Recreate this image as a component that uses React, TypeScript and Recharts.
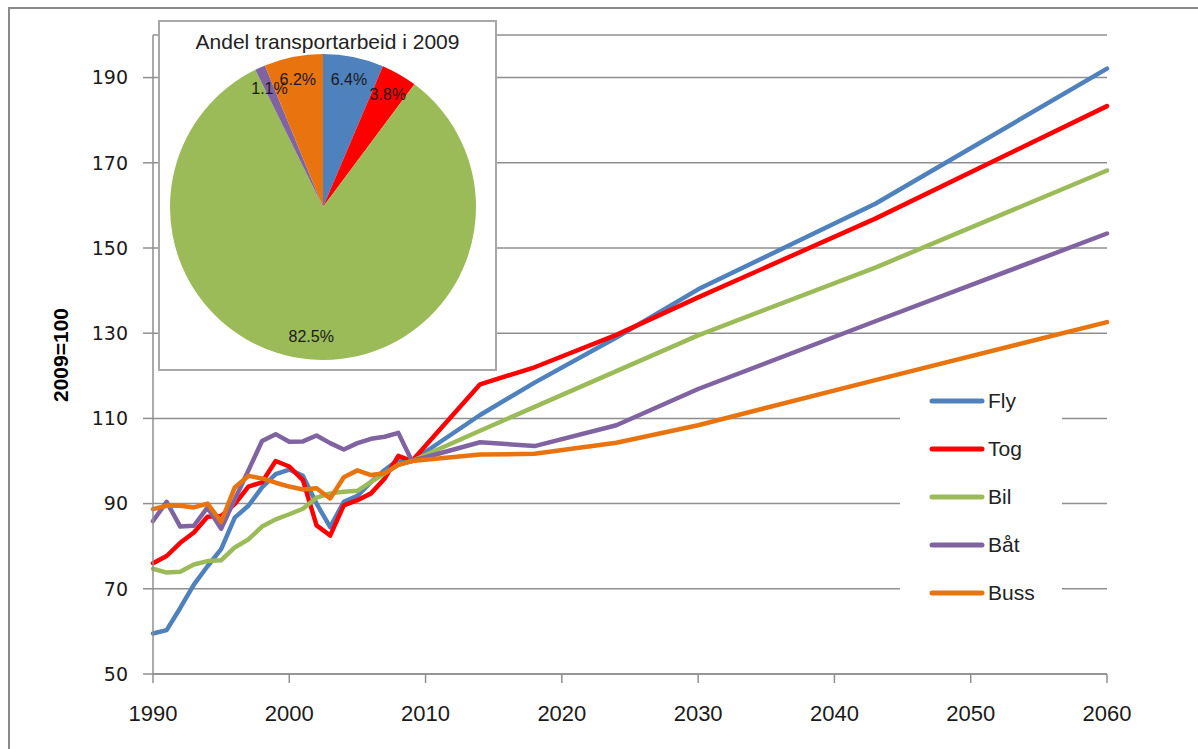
import { LineChart, Line, XAxis, YAxis, CartesianGrid, Legend, PieChart, Pie, Cell } from "recharts";

const years = [1990, 1991, 1992, 1993, 1994, 1995, 1996, 1997, 1998, 1999, 2000, 2001, 2002, 2003, 2004, 2005, 2006, 2007, 2008, 2009, 2014, 2018, 2024, 2030, 2043, 2060];
const fly = [59.5, 60.3, 65.5, 71, 75.3, 79.3, 86.7, 89.5, 93.8, 96.9, 98, 96.5, 90, 84.5, 90.4, 91.8, 95.1, 97.9, 100.3, 100, 110.8, 118.4, 129, 140.3, 160.4, 192.1];
const tog = [76, 77.7, 80.8, 83.2, 86.9, 87.1, 89.9, 94, 95, 100, 98.7, 95.5, 84.9, 82.5, 89.6, 90.8, 92.4, 95.9, 101.2, 100, 118, 122, 129.6, 138.4, 156.9, 183.3];
const bil = [74.7, 73.8, 74, 75.7, 76.5, 76.7, 79.7, 81.6, 84.6, 86.3, 87.5, 88.8, 91.4, 92.4, 92.8, 93, 95.1, 97.1, 99.1, 100, 107.1, 112.7, 121.1, 129.5, 145.4, 168.2];
const baat = [85.9, 90.4, 84.6, 84.8, 89.1, 84.1, 91, 97.8, 104.7, 106.3, 104.5, 104.6, 106, 104.2, 102.7, 104.2, 105.2, 105.7, 106.6, 100, 104.4, 103.5, 108.4, 116.9, 132.8, 153.4];
const buss = [88.7, 89.5, 89.5, 89.1, 90, 85.7, 93.8, 96.5, 95.9, 94.9, 94, 93.3, 93.6, 91.2, 96.2, 97.8, 96.7, 97.1, 99.1, 100, 101.5, 101.7, 104.3, 108.4, 119, 132.6];

const xTicks = [1990, 2000, 2010, 2020, 2030, 2040, 2050, 2060];
const yTicks = [50, 70, 90, 110, 130, 150, 170, 190];

const pieNames = ["Fly", "Tog", "Bil", "Båt", "Buss"];
const pieShares = [6.4, 3.8, 82.5, 1.1, 6.2];

const series = [
  { key: "Fly", color: "#4F81BD" },
  { key: "Tog", color: "#FF0000" },
  { key: "Bil", color: "#9BBB59" },
  { key: "Båt", color: "#8064A2" },
  { key: "Buss", color: "#E9730F" },
];

const rows = years.map((year, i) => ({
  year,
  Fly: fly[i],
  Tog: tog[i],
  Bil: bil[i],
  "Båt": baat[i],
  Buss: buss[i],
}));

const pieData = pieNames.map((name, i) => ({ name, value: pieShares[i], color: series[i].color }));

const SANS = "'Liberation Sans', Arial, sans-serif";
const GRID = "#8f8f8f";
const RAD = Math.PI / 180;

// legend keeps the series order (recharts sorts the payload by name)
function renderLegend() {
  return (
    <div style={{ background: "#fff", width: 162, height: 240 }}>
      {series.map((s) => (
        <div key={s.key} style={{ display: "flex", alignItems: "center", height: 48 }}>
          <svg width={87} height={10}>
            <line x1={32} y1={5} x2={82} y2={5} stroke={s.color} strokeWidth={5} strokeLinecap="round" />
          </svg>
          <span style={{ fontFamily: SANS, fontSize: 21, color: "#222", marginLeft: 1 }}>{s.key}</span>
        </div>
      ))}
    </div>
  );
}

function renderPieLabel(props: any) {
  const { cx, cy, midAngle, value } = props;
  const r = 130;
  const x = cx + r * Math.cos(-midAngle * RAD);
  const y = cy + r * Math.sin(-midAngle * RAD);
  return (
    <text x={x} y={y} textAnchor="middle" dominantBaseline="central" fontFamily={SANS} fontSize={16} fill="#1a1a1a">
      {value.toFixed(1)}%
    </text>
  );
}

export default function App() {
  return (
    <div style={{ position: "absolute", left: 0, top: 0, width: 1198, height: 749, overflow: "hidden", background: "#fff" }}>
      <div style={{ position: "absolute", left: 8, top: 7, width: 1300, height: 900, border: "2px solid #8a8a8a" }} />
      <div style={{ position: "absolute", left: 0, top: 0 }}>
        <LineChart width={1198} height={749} data={rows} margin={{ top: 35, right: 91, left: 0, bottom: 0 }}>
          <CartesianGrid vertical={false} stroke={GRID} strokeWidth={1.5} />
          <XAxis
            dataKey="year"
            type="number"
            domain={[1990, 2060]}
            ticks={xTicks}
            height={75}
            stroke={GRID}
            strokeWidth={1.5}
            tickSize={9}
            tickMargin={22}
            tick={{ fontFamily: SANS, fontSize: 22, fill: "#1a1a1a" }}
          />
          <YAxis
            type="number"
            domain={[50, 200]}
            ticks={yTicks}
            width={153}
            stroke={GRID}
            strokeWidth={1.5}
            tickSize={10}
            tickMargin={15}
            tick={{ fontFamily: "'DejaVu Sans', sans-serif", fontSize: 19, fill: "#1a1a1a" }}
            label={{
              content: () => (
                <text x={60} y={355} transform="rotate(-90 60 355)" textAnchor="middle" dominantBaseline="central" fontFamily={SANS} fontWeight="bold" fontSize={21} fill="#000">
                  2009=100
                </text>
              ),
            }}
          />
          <Legend
            layout="vertical"
            align="center"
            verticalAlign="middle"
            content={renderLegend}
            wrapperStyle={{ left: 900, top: 377, width: 162, height: 240 }}
          />
          {series.map((s) => (
            <Line
              key={s.key}
              type="linear"
              dataKey={s.key}
              stroke={s.color}
              strokeWidth={4.5}
              strokeLinejoin="round"
              strokeLinecap="round"
              dot={false}
              isAnimationActive={false}
            />
          ))}
        </LineChart>
      </div>
      <div style={{ position: "absolute", left: 158, top: 20, width: 335, height: 347, border: "2px solid #a8a8a8", background: "#fff" }}>
        <div style={{ position: "absolute", left: 0, top: 8, width: 335, textAlign: "center", fontFamily: SANS, fontSize: 21, color: "#222" }}>
          Andel transportarbeid i 2009
        </div>
        <PieChart width={335} height={347} margin={{ top: 0, right: 0, bottom: 0, left: 0 }}>
          <Pie
            data={pieData}
            dataKey="value"
            nameKey="name"
            cx={163}
            cy={185}
            outerRadius={153}
            startAngle={90}
            endAngle={-270}
            stroke="none"
            label={renderPieLabel}
            labelLine={false}
            isAnimationActive={false}
          >
            {pieData.map((d) => (
              <Cell key={d.name} fill={d.color} />
            ))}
          </Pie>
        </PieChart>
      </div>
    </div>
  );
}
